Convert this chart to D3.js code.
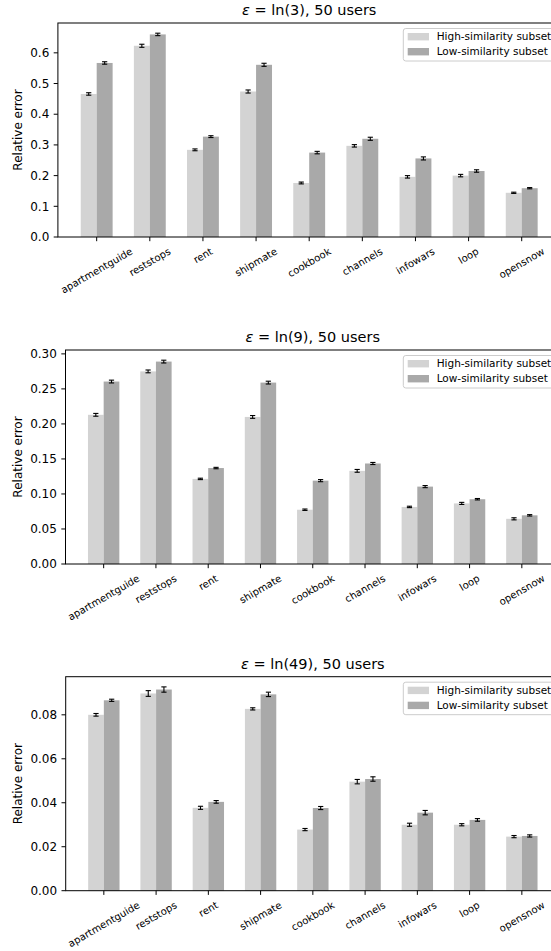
<!DOCTYPE html>
<html>
<head>
<meta charset="utf-8">
<script src="https://cdn.jsdelivr.net/npm/d3@7"></script>
<style>
  body { margin: 0; background: #fff; }
  svg { display: block; }
  text { font-family: "DejaVu Sans", sans-serif; fill: #000; }
</style>
</head>
<body>
<svg id="fig" width="551" height="951"></svg>
<script>
// ---- data ----
const categories = ["apartmentguide", "reststops", "rent", "shipmate", "cookbook", "channels", "infowars", "loop", "opensnow"];
const seriesNames = ["High-similarity subset", "Low-similarity subset"];
const epsilonLabels = ["ln(3)", "ln(9)", "ln(49)"];
const usersLabel = "50 users";
const yAxisLabel = "Relative error";

// epsilon = ln(3)
const highLn3    = [0.466, 0.623, 0.284, 0.474, 0.176, 0.297, 0.196, 0.200, 0.144];
const highErrLn3 = [0.004, 0.005, 0.003, 0.005, 0.003, 0.004, 0.004, 0.004, 0.002];
const lowLn3     = [0.567, 0.660, 0.327, 0.561, 0.275, 0.320, 0.256, 0.215, 0.159];
const lowErrLn3  = [0.004, 0.004, 0.003, 0.005, 0.004, 0.005, 0.005, 0.004, 0.002];
const ticksLn3   = [0.0, 0.1, 0.2, 0.3, 0.4, 0.5, 0.6];

// epsilon = ln(9)
const highLn9    = [0.213, 0.275, 0.1215, 0.210, 0.0775, 0.133, 0.0815, 0.0865, 0.0645];
const highErrLn9 = [0.002, 0.002, 0.001, 0.002, 0.001, 0.002, 0.001, 0.0015, 0.0015];
const lowLn9     = [0.2605, 0.289, 0.137, 0.259, 0.119, 0.1435, 0.1105, 0.0925, 0.0695];
const lowErrLn9  = [0.002, 0.002, 0.001, 0.002, 0.0015, 0.0015, 0.0015, 0.001, 0.001];
const ticksLn9   = [0.00, 0.05, 0.10, 0.15, 0.20, 0.25, 0.30];

// epsilon = ln(49)
const highLn49    = [0.0800, 0.0897, 0.0377, 0.0827, 0.0278, 0.0496, 0.0300, 0.0300, 0.0246];
const highErrLn49 = [0.0006, 0.0013, 0.0007, 0.0005, 0.0005, 0.0010, 0.0007, 0.0005, 0.0005];
const lowLn49     = [0.0866, 0.0915, 0.0404, 0.0893, 0.0376, 0.0508, 0.0355, 0.0322, 0.0249];
const lowErrLn49  = [0.0005, 0.0012, 0.0006, 0.0010, 0.0007, 0.0010, 0.0010, 0.0006, 0.0005];
const ticksLn49   = [0.00, 0.02, 0.04, 0.06, 0.08];

const tickFormats = [".1f", ".2f", ".2f"];
const barColors = ["#d3d3d3", "#a9a9a9"];

const panels = [
  { eps: epsilonLabels[0], high: highLn3, highErr: highErrLn3, low: lowLn3, lowErr: lowErrLn3, ticks: ticksLn3, fmt: tickFormats[0],
    box: { left: 57.9, right: 560.5, top: 23, bottom: 237 } },
  { eps: epsilonLabels[1], high: highLn9, highErr: highErrLn9, low: lowLn9, lowErr: lowErrLn9, ticks: ticksLn9, fmt: tickFormats[1],
    box: { left: 65.5, right: 560, top: 350, bottom: 564 } },
  { eps: epsilonLabels[2], high: highLn49, highErr: highErrLn49, low: lowLn49, lowErr: lowErrLn49, ticks: ticksLn49, fmt: tickFormats[2],
    box: { left: 65.7, right: 560, top: 676.7, bottom: 890.7 } }
];

const svg = d3.select("#fig");
const barW = 0.3;              // bar width in category units
const xPad = 0.05;             // 5% axis margin
const tickFont = 12, xTickFont = 10, labelFont = 12, titleFont = 14.5, legendFont = 10.5;

panels.forEach(p => {
  const b = p.box;
  const g = svg.append("g");
  const n = categories.length;
  const lo = -barW, hi = (n - 1) + barW;
  const m = (hi - lo) * xPad;
  const x = d3.scaleLinear().domain([lo - m, hi + m]).range([b.left, b.right]);

  const series = [
    { name: seriesNames[0], vals: p.high, errs: p.highErr, off: -barW / 2, color: barColors[0] },
    { name: seriesNames[1], vals: p.low,  errs: p.lowErr,  off:  barW / 2, color: barColors[1] }
  ];
  const yMax = d3.max(series.flatMap(s => s.vals.map((v, i) => v + s.errs[i]))) * 1.05;
  const y = d3.scaleLinear().domain([0, yMax]).range([b.bottom, b.top]);

  // bars
  series.forEach(s => {
    g.append("g").selectAll("rect").data(s.vals).join("rect")
      .attr("x", (d, i) => x(i + s.off - barW / 2))
      .attr("width", (d, i) => x(i + s.off + barW / 2) - x(i + s.off - barW / 2))
      .attr("y", d => y(d))
      .attr("height", d => y(0) - y(d))
      .attr("fill", s.color);
  });

  // error bars
  series.forEach(s => {
    const eg = g.append("g").attr("stroke", "#000").attr("stroke-width", 1.1).attr("fill", "none");
    s.vals.forEach((v, i) => {
      const cx = x(i + s.off);
      const y1 = y(v - s.errs[i]), y2 = y(v + s.errs[i]);
      eg.append("line").attr("x1", cx).attr("x2", cx).attr("y1", y1).attr("y2", y2);
      eg.append("line").attr("x1", cx - 2.6).attr("x2", cx + 2.6).attr("y1", y1).attr("y2", y1);
      eg.append("line").attr("x1", cx - 2.6).attr("x2", cx + 2.6).attr("y1", y2).attr("y2", y2);
    });
  });

  // spines
  const sp = g.append("g").attr("stroke", "#000").attr("stroke-width", 1).attr("fill", "none");
  sp.append("rect").attr("x", b.left).attr("y", b.top).attr("width", b.right - b.left).attr("height", b.bottom - b.top);

  // y axis ticks
  const fmt = d3.format(p.fmt);
  const yt = g.append("g");
  p.ticks.forEach(t => {
    yt.append("line").attr("x1", b.left - 4.2).attr("x2", b.left).attr("y1", y(t)).attr("y2", y(t))
      .attr("stroke", "#000").attr("stroke-width", 1);
    yt.append("text").attr("x", b.left - 8.6).attr("y", y(t)).attr("dy", "0.35em")
      .attr("text-anchor", "end").attr("font-size", tickFont).text(fmt(t));
  });

  // x axis ticks, labels rotated 30 degrees, rotated box centred under the tick
  const xt = g.append("g");
  categories.forEach((c, i) => {
    const cx = x(i);
    xt.append("line").attr("x1", cx).attr("x2", cx).attr("y1", b.bottom).attr("y2", b.bottom + 4.2)
      .attr("stroke", "#000").attr("stroke-width", 1);
    const t = xt.append("text").attr("font-size", xTickFont).attr("text-anchor", "middle").attr("dy", "0.346em").text(c);
    const w = t.node().getComputedTextLength();
    const h = xTickFont * 1.164;
    const bh = w * Math.sin(Math.PI / 6) + h * Math.cos(Math.PI / 6);
    const cy = b.bottom + 8.4 + bh / 2;
    t.attr("transform", `translate(${cx},${cy}) rotate(-30)`);
  });

  // y axis label
  g.append("text").attr("font-size", labelFont).attr("text-anchor", "middle")
    .attr("transform", `translate(22,${(b.top + b.bottom) / 2}) rotate(-90)`).text(yAxisLabel);

  // title
  const title = g.append("text").attr("font-size", titleFont).attr("text-anchor", "middle")
    .attr("x", (b.left + b.right) / 2).attr("y", b.top - 8);
  title.append("tspan").attr("font-style", "italic").text("\u03b5");
  title.append("tspan").text(` = ${p.eps}, ${usersLabel}`);

  // legend, upper right
  const lg = g.append("g");
  const lx = 403.3, ly = b.top + 5.5;
  const box = lg.append("rect").attr("x", lx).attr("y", ly).attr("height", 32.5).attr("rx", 2.5)
    .attr("fill", "#fff").attr("fill-opacity", 0.8).attr("stroke", "#cccccc").attr("stroke-width", 1);
  let maxW = 0;
  series.forEach((s, k) => {
    const ry = b.top + 13.7 + k * 15;
    lg.append("rect").attr("x", 407.7).attr("y", ry - 3.7).attr("width", 21.3).attr("height", 7.4).attr("fill", s.color);
    const tx = lg.append("text").attr("x", 436.7).attr("y", ry).attr("dy", "0.35em").attr("font-size", legendFont).text(s.name);
    maxW = Math.max(maxW, tx.node().getComputedTextLength());
  });
  box.attr("width", 436.7 + maxW + 5 - lx);
});
</script>
</body>
</html>
